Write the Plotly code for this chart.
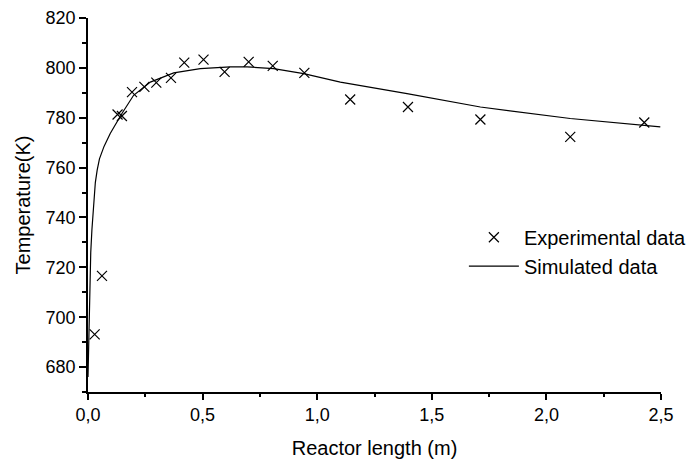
import plotly.graph_objects as go

# experimental temperature measurements along the reactor
exp_length = [0.029, 0.061, 0.129, 0.148, 0.192, 0.246, 0.298, 0.362, 0.420, 0.504,
              0.596, 0.701, 0.806, 0.944, 1.144, 1.396, 1.712, 2.104, 2.427]
exp_temp = [693.1, 716.6, 781.3, 780.7, 790.3, 792.4, 794.1, 796.0, 802.1, 803.3,
            798.4, 802.4, 800.8, 798.0, 787.3, 784.3, 779.3, 772.3, 778.1]

# simulated profile
sim_length = [0.0, 0.004, 0.008, 0.012, 0.017, 0.024, 0.032, 0.040, 0.050, 0.070,
              0.097, 0.148, 0.199, 0.272, 0.374, 0.49, 0.621, 0.694, 0.81, 0.941,
              1.101, 1.392, 1.712, 2.104, 2.497]
sim_temp = [676.0, 698.0, 714.0, 726.0, 735.0, 746.0, 754.0, 759.0, 763.5, 768.5,
            773.7, 781.7, 789.0, 794.3, 798.0, 799.7, 800.4, 800.4, 799.7, 797.7,
            794.3, 789.7, 784.3, 779.7, 776.3]

font = "Arial, Liberation Sans, sans-serif"

fig = go.Figure()
fig.add_trace(go.Scatter(x=exp_length, y=exp_temp, mode="markers", name="Experimental data",
                         marker=dict(symbol="x-thin-open", size=10, color="black",
                                     line=dict(color="black", width=1.2))))
fig.add_trace(go.Scatter(x=sim_length, y=sim_temp, mode="lines", name="Simulated data",
                         line=dict(color="black", width=1.2)))

# page adds 8px body margin, so margins are shifted accordingly
fig.update_layout(
    width=694, height=462,
    margin=dict(l=80, r=41, t=10, b=78),
    paper_bgcolor="white", plot_bgcolor="white",
    separators=", ",
    font=dict(family=font, size=18, color="black"),
    legend=dict(x=0.656, y=0.466, xanchor="left", yanchor="top",
                bgcolor="rgba(0,0,0,0)", font=dict(size=20), itemwidth=50,
                tracegroupgap=0),
    showlegend=True,
)
fig.update_xaxes(range=[0, 2.5], dtick=0.5, tickformat=".1f", showgrid=False, zeroline=False,
                 showline=True, linecolor="black", linewidth=1.5, automargin=False,
                 ticks="outside", ticklen=6, tickwidth=1.5, tickcolor="black",
                 minor=dict(dtick=0.25, ticks="outside", ticklen=3, tickwidth=1.5, tickcolor="black"),
                 title=dict(text="Reactor length (m)", font=dict(size=20), standoff=17))
fig.update_yaxes(range=[670, 820], dtick=20, tick0=680, showgrid=False, zeroline=False,
                 showline=True, linecolor="black", linewidth=1.5, automargin=False,
                 ticks="outside", ticklen=7, tickwidth=1.5, tickcolor="black",
                 minor=dict(dtick=10, ticks="outside", ticklen=4, tickwidth=1.5, tickcolor="black"),
                 title=dict(text="Temperature(K)", font=dict(size=20), standoff=10))

fig.write_html("out.html")
